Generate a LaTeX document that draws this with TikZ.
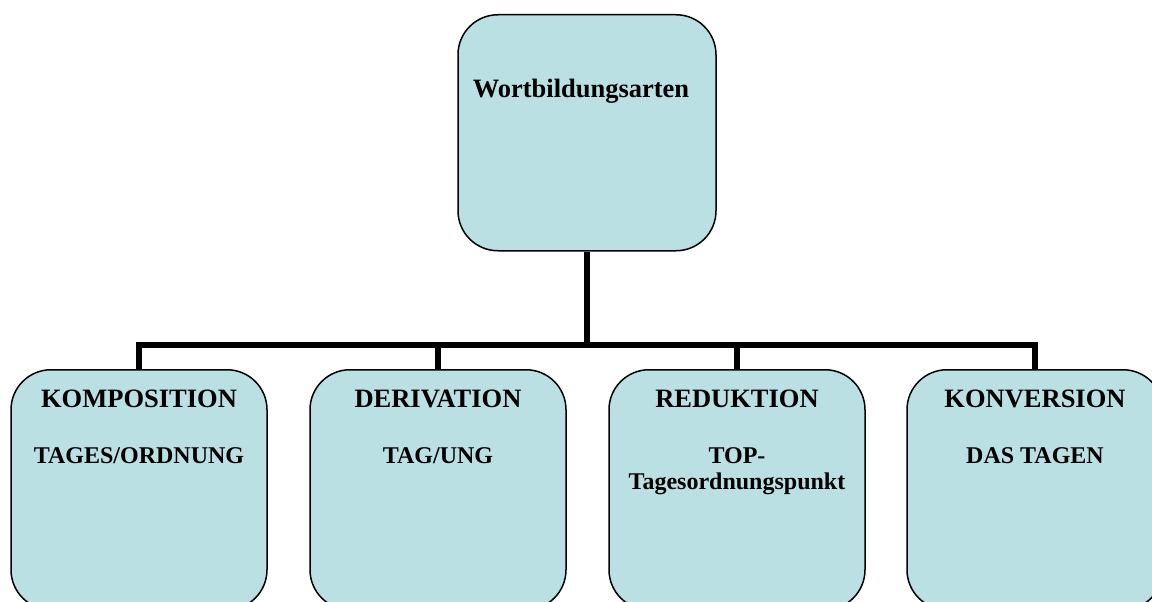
\documentclass[tikz,border=0pt]{standalone}
\usepackage{fontspec}
\setmainfont{Liberation Serif}
\definecolor{boxfill}{RGB}{187,224,227}
\tikzset{
  box/.style={draw=black, line width=1.5pt, fill=boxfill, rounded corners=40pt,
    minimum width=256pt, minimum height=240pt, inner sep=0pt, anchor=north},
  conn/.style={draw=black, line width=5.5pt},
  big/.style={font=\bfseries\fontsize{26.5}{30}\selectfont, anchor=base, inner sep=0pt},
  small/.style={font=\bfseries\fontsize{24}{26}\selectfont, anchor=base, inner sep=0pt, align=center}
}
\begin{document}
\begin{tikzpicture}[x=1pt,y=-1pt]
\useasboundingbox (0,0) rectangle (1152,602);
\clip (0,0) rectangle (1152,602);
\fill[white] (0,0) rectangle (1152,602);
% boxes
\node[box, minimum width=258pt, minimum height=236pt] (top) at (587,14) {};
\node[box] (b1) at (139,369) {};
\node[box] (b2) at (438,369) {};
\node[box] (b3) at (737,369) {};
\node[box] (b4) at (1035,369) {};
% connectors
\coordinate (hub) at (587,345);
\draw[conn] (top.south) -- (hub);
\draw[conn, line join=miter] (b1.north) -- (b1.north |- hub) -- (b4.north |- hub) -- (b4.north);
\draw[conn] (b2.north) -- (b2.north |- hub);
\draw[conn] (b3.north) -- (b3.north |- hub);
% texts
\node[big] (t0) at (581,97) {Wortbildungsarten};
\node[big] (t1a) at (139,407) {KOMPOSITION};
\node[small] (t1b) at (139,463) {TAGES/ORDNUNG};
\node[big] (t2a) at (438,407) {DERIVATION};
\node[small] (t2b) at (438,463) {TAG/UNG};
\node[big] (t3a) at (737,407) {REDUKTION};
\node[small] (t3b) at (737,463) {TOP-};
\node[small] (t3c) at (737,489) {Tagesordnungspunkt};
\node[big] (t4a) at (1035,407) {KONVERSION};
\node[small] (t4b) at (1035,463) {DAS TAGEN};
\end{tikzpicture}
\end{document}
